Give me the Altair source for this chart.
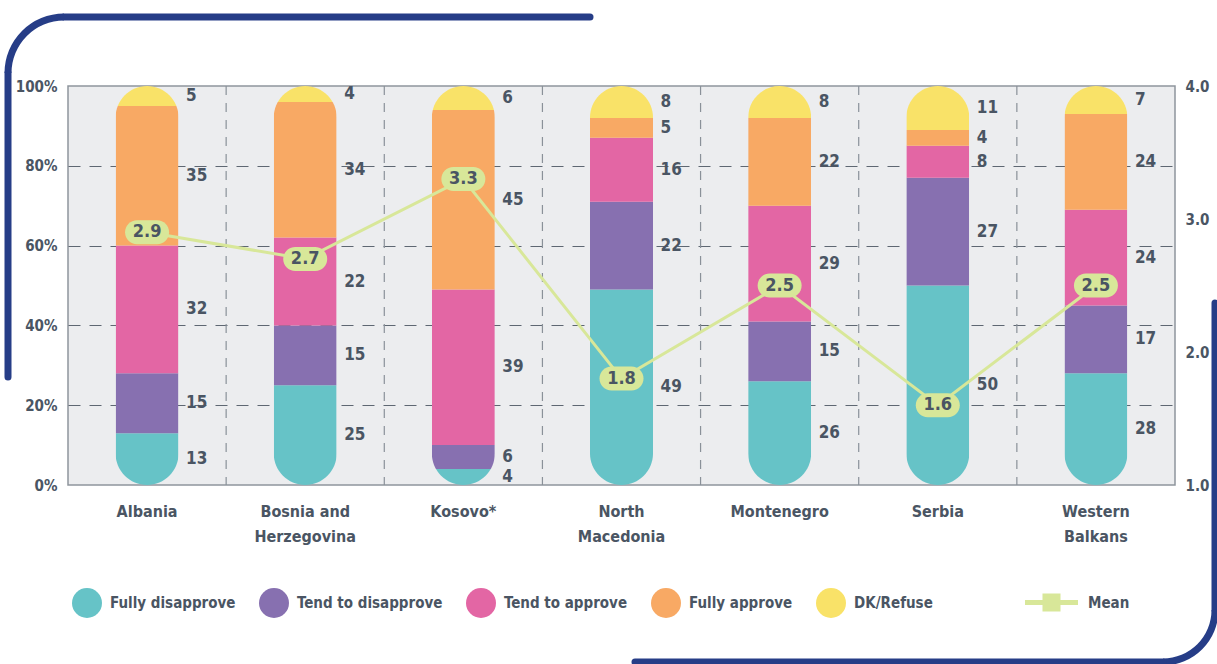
import altair as alt
import pandas as pd

# Survey shares (%) by country, stacked bottom to top
countries = ["Albania", "Bosnia and Herzegovina", "Kosovo*", "North Macedonia",
             "Montenegro", "Serbia", "Western Balkans"]
responses = ["Fully disapprove", "Tend to disapprove", "Tend to approve",
             "Fully approve", "DK/Refuse"]
fully_disapprove = [13, 25, 4, 49, 26, 50, 28]
tend_to_disapprove = [15, 15, 6, 22, 15, 27, 17]
tend_to_approve = [32, 22, 39, 16, 29, 8, 24]
fully_approve = [35, 34, 45, 5, 22, 4, 24]
dk_refuse = [5, 4, 6, 8, 8, 11, 7]
# Mean score on the 1-4 scale
mean_score = [2.9, 2.7, 3.3, 1.8, 2.5, 1.6, 2.5]

left_ticks = [0, 20, 40, 60, 80, 100]
right_ticks = [1, 2, 3, 4]

colors = ["#66C3C7", "#8770B0", "#E366A4", "#F8A964", "#F9E268"]
MEAN_GREEN = "#D8E799"
TXT = "#4A5563"
NAVY = "#263D87"
FONT = "Liberation Sans Narrow, DejaVu Sans Condensed, Roboto Condensed, sans-serif"

series = [fully_disapprove, tend_to_disapprove, tend_to_approve, fully_approve, dk_refuse]
rows = []
for k, (resp, vals) in enumerate(zip(responses, series)):
    for c, v in zip(countries, vals):
        rows.append({"country": c, "response": resp, "order": k, "value": v})
shares = pd.DataFrame(rows)
means = pd.DataFrame({"country": countries, "mean": mean_score, "series": "Mean"})
separators = pd.DataFrame({"country": countries[:-1]})

label_expr = ("datum.label == 'Bosnia and Herzegovina' ? ['Bosnia and', 'Herzegovina'] : "
              "datum.label == 'North Macedonia' ? ['North', 'Macedonia'] : "
              "datum.label == 'Western Balkans' ? ['Western', 'Balkans'] : datum.label")

x_scale = alt.Scale(domain=countries, paddingInner=0, paddingOuter=0)
x_axis = alt.Axis(title=None, labelExpr=label_expr, labelAngle=0, ticks=False, domain=False,
                  labelFont=FONT, labelFontSize=16, labelFontWeight="bold", labelColor=TXT,
                  labelPadding=18, labelLineHeight=25, labelBaseline="top")
x_enc = alt.X("country:N", sort=countries, scale=x_scale, axis=x_axis)

pct_scale = alt.Scale(domain=[0, 100], nice=False)
pct_axis = alt.Axis(title=None, values=left_ticks, labelExpr="datum.value + '%'",
                    ticks=False, domain=False, grid=True, gridDash=[12, 9],
                    gridColor="#5E6772", gridWidth=1.2,
                    gridOpacity={"condition": {"test": "datum.value == 0 || datum.value == 100",
                                               "value": 0}, "value": 1},
                    labelFont=FONT, labelFontSize=15, labelFontWeight="bold",
                    labelColor=TXT, labelPadding=11)

# dashed separators between country columns
sep = alt.Chart(separators).mark_rule(strokeDash=[9, 8], color="#8A9199", strokeWidth=1.2).encode(
    x=alt.X("country:N", sort=countries, scale=x_scale, axis=x_axis, bandPosition=1)
)

bars = alt.Chart(shares).mark_bar(size=63, cornerRadius=31.5).encode(
    x=x_enc,
    y=alt.Y("value:Q", stack="zero", scale=pct_scale, axis=pct_axis),
    color=alt.Color("response:N", sort=responses,
                    scale=alt.Scale(domain=responses, range=colors),
                    legend=alt.Legend(title=None, orient="none", legendX=4, legendY=502,
                                      direction="horizontal", symbolType="circle",
                                      symbolSize=900, symbolStrokeWidth=0,
                                      labelFont=FONT, labelFontSize=15, labelFontWeight="bold",
                                      labelColor=TXT, labelOffset=8, columnPadding=23,
                                      labelLimit=300)),
    order=alt.Order("order:Q", sort="ascending"),
)

seg_labels = alt.Chart(shares).transform_stack(
    stack="value", groupby=["country"], sort=[alt.SortField("order", "ascending")],
    as_=["y0", "y1"]
).transform_calculate(mid="(datum.y0 + datum.y1) / 2").mark_text(
    align="left", baseline="middle", dx=39, font=FONT, fontSize=17, fontWeight="bold", color=TXT
).encode(
    x=x_enc,
    y=alt.Y("mid:Q", scale=pct_scale, axis=pct_axis),
    text="value:Q",
)

share_layer = alt.layer(sep, bars, seg_labels)

mean_scale = alt.Scale(domain=[1, 4], nice=False, zero=False)
mean_axis = alt.Axis(title=None, orient="right", values=right_ticks, format=".1f",
                     ticks=False, domain=False, grid=False, labelFont=FONT, labelFontSize=15,
                     labelFontWeight="bold", labelColor=TXT, labelPadding=10)
y_mean = alt.Y("mean:Q", scale=mean_scale, axis=mean_axis)

PILL = ("M-0.455,-0.545L0.455,-0.545A0.545,0.545,0,0,1,0.455,0.545"
        "L-0.455,0.545A0.545,0.545,0,0,1,-0.455,-0.545Z")
MEAN_KEY = "M-1,-0.09H1V0.09H-1Z M-0.34,-0.34H0.34V0.34H-0.34Z"

mean_line = alt.Chart(means).mark_line(color=MEAN_GREEN, strokeWidth=3).encode(x=x_enc, y=y_mean)
mean_pills = alt.Chart(means).mark_point(shape=PILL, size=1936, filled=True, opacity=1,
                                         strokeWidth=0).encode(
    x=x_enc, y=y_mean,
    color=alt.Color("series:N", scale=alt.Scale(domain=["Mean"], range=[MEAN_GREEN]),
                    legend=alt.Legend(title=None, orient="none", legendX=957, legendY=490,
                                      symbolType=MEAN_KEY, symbolSize=2809,
                                      symbolStrokeWidth=0,
                                      labelFont=FONT, labelFontSize=15, labelFontWeight="bold",
                                      labelColor=TXT, labelOffset=10)),
)
mean_text = alt.Chart(means).mark_text(font=FONT, fontSize=18, fontWeight="bold", color=TXT,
                                       baseline="middle").encode(
    x=x_enc, y=y_mean, text=alt.Text("mean:Q", format=".1f"))

mean_layer = alt.layer(mean_line, mean_pills, mean_text)

# rounded navy frame accents (top-left and bottom-right corners)
one = alt.Data(values=[{}])
frame_tl_arc = alt.Chart(one).mark_arc(color=NAVY).encode(
    x=alt.value(-4), y=alt.value(-13), theta=alt.value(4.71239), theta2=alt.value(6.28318),
    radius=alt.value(59.5), radius2=alt.value(52.5))
frame_tl_top = alt.Chart(one).mark_rule(color=NAVY, strokeWidth=7, strokeCap="round").encode(
    x=alt.value(-4), x2=alt.value(522), y=alt.value(-69))
frame_tl_left = alt.Chart(one).mark_rule(color=NAVY, strokeWidth=7, strokeCap="round").encode(
    x=alt.value(-60), y=alt.value(-13), y2=alt.value(291))
frame_br_arc = alt.Chart(one).mark_arc(color=NAVY).encode(
    x=alt.value(1095), y=alt.value(524), theta=alt.value(1.5708), theta2=alt.value(3.14159),
    radius=alt.value(55.5), radius2=alt.value(48.5))
frame_br_bottom = alt.Chart(one).mark_rule(color=NAVY, strokeWidth=7, strokeCap="round").encode(
    x=alt.value(567), x2=alt.value(1095), y=alt.value(576))
frame_br_right = alt.Chart(one).mark_rule(color=NAVY, strokeWidth=7, strokeCap="round").encode(
    x=alt.value(1147), y=alt.value(217), y2=alt.value(524))

chart = alt.layer(
    share_layer, mean_layer,
    frame_tl_arc, frame_tl_top, frame_tl_left,
    frame_br_arc, frame_br_bottom, frame_br_right,
).resolve_scale(
    y="independent", color="independent"
).properties(
    width=1107, height=399,
    autosize=alt.AutoSizeParams(type="none"),
    padding={"left": 68, "top": 86, "right": 42, "bottom": 179},
).configure_view(
    fill="#ECEDEF", stroke="#8E959D", strokeWidth=1.5
)

chart.save("out.html", embed_options={"renderer": "svg", "actions": False})
